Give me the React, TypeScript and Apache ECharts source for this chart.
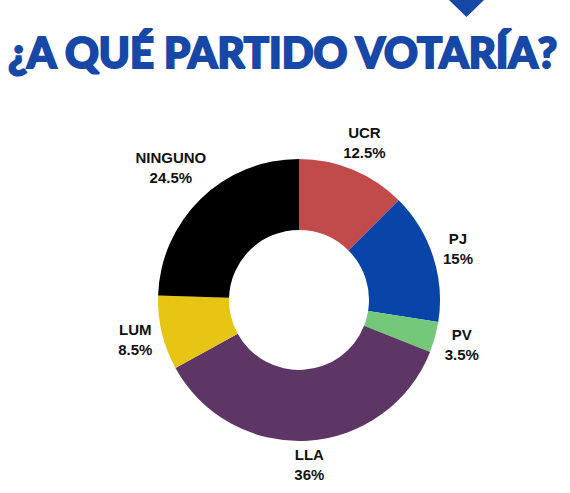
import React, { useEffect, useRef } from "react";
import * as echarts from "echarts";

const parties = ["UCR", "PJ", "PV", "LLA", "LUM", "NINGUNO"];
const shares = [12.5, 15, 3.5, 36, 8.5, 24.5];
const partyColors = ["#c14a4b", "#0944a8", "#74c87a", "#5d3666", "#e6c514", "#000000"];
const titleText = "¿A QUÉ PARTIDO VOTARÍA?";

const LABEL_RING = 170;
const LABEL_GAP = 145;

export default function App() {
  const ref = useRef<HTMLDivElement>(null);
  useEffect(() => {
    if (!ref.current) return;
    const chart = echarts.init(ref.current, null, { renderer: "svg" });
    const data = parties.map((p, i) => ({
      name: p,
      value: shares[i],
      itemStyle: { color: partyColors[i] },
    }));
    const total = shares.reduce((a, b) => a + b, 0);
    const midAngles: number[] = [];
    let acc = 0;
    shares.forEach((s) => {
      midAngles.push(((acc + s / 2) / total) * Math.PI * 2);
      acc += s;
    });
    chart.setOption({
      animation: false,
      backgroundColor: "#ffffff",
      graphic: [
        {
          type: "polygon",
          shape: { points: [[449, 0], [484, 0], [466.5, 17]] },
          style: { fill: "#1748a7" },
        },
        {
          type: "text",
          left: 7,
          top: 30,
          style: {
            text: titleText,
            fill: "#1748a7",
            stroke: "#1748a7",
            lineWidth: 2,
            font: "900 41.8px Lato",
          },
        },
      ],
      series: [
        {
          type: "pie",
          center: [299, 300],
          radius: [70, 141],
          startAngle: 90,
          clockwise: true,
          silent: true,
          label: { show: false },
          labelLine: { show: false },
          itemStyle: { borderWidth: 0 },
          data,
        },
        {
          type: "pie",
          center: [299, 300],
          radius: [LABEL_RING - 10, LABEL_RING + 10],
          startAngle: 90,
          clockwise: true,
          silent: true,
          itemStyle: { color: "transparent" },
          labelLine: { show: false },
          label: {
            show: true,
            position: "inside",
            formatter: (p: any) => `${p.name}\n${p.value}%`,
            color: "#111111",
            fontFamily: "Liberation Sans, Arial, sans-serif",
            fontWeight: "bold",
            fontSize: 15,
            lineHeight: 20,
          },
          labelLayout: (params: any) => {
            const a = midAngles[params.dataIndex];
            const w = params.labelRect.width / 2;
            const h = params.labelRect.height / 2 - 4;
            const ext = w * Math.abs(Math.sin(a)) + h * Math.abs(Math.cos(a));
            const r = LABEL_GAP + ext;
            const d = r - LABEL_RING;
            return { dx: d * Math.sin(a), dy: -d * Math.cos(a) };
          },
          data: parties.map((p, i) => ({ name: p, value: shares[i] })),
        },
      ],
    });
    return () => chart.dispose();
  }, []);
  return (
    <div
      ref={ref}
      style={{ position: "fixed", left: 0, top: 0, width: 570, height: 493 }}
    />
  );
}
